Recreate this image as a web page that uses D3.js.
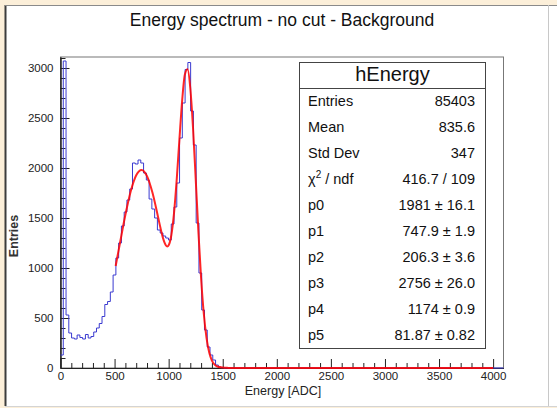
<!DOCTYPE html>
<html>
<head>
<meta charset="utf-8">
<script src="https://cdn.jsdelivr.net/npm/d3@7"></script>
<style>
  body { margin: 0; background: #fcefd9; }
  svg { display: block; font-family: "Liberation Sans", Arial, sans-serif; }
</style>
</head>
<body>
<svg id="chart" width="557" height="408"></svg>
<script>
// histogram: 160 bins of 25.6 ADC over 0..4096, only the first 60 are non-empty
const binWidth = 25.6;
const xMax = 4096;
const binCounts = [
  130, 3070, 530, 350, 300, 290, 330, 305, 290, 335,
  300, 315, 360, 400, 445, 515, 635, 665, 760, 930,
  1100, 1250, 1420, 1560, 1680, 1790, 2050, 2040, 2080, 2050,
  1950, 1880, 1690, 1590, 1500, 1380, 1350, 1320, 1300, 1280,
  1440, 1610, 1850, 2300, 2650, 2985, 3055, 2570, 2230, 1450,
  950, 580, 380, 210, 130, 80, 30, 10, 3, 0
];

// red fit curve
const fitX = [510, 550, 600, 650, 700, 750, 800, 850, 900, 925, 950, 962, 975, 987, 1000, 1025, 1050, 1075, 1100,
  1125, 1150, 1175, 1200, 1225, 1250, 1275, 1300, 1325, 1350, 1375, 1400, 1425, 1450, 1500, 1550, 1600, 4000];
const fitY = [1020, 1250, 1532, 1770, 1928, 1981, 1919, 1754, 1520, 1397, 1291, 1253, 1225, 1215, 1227, 1330, 1553, 1891, 2294,
  2677, 2936, 2988, 2800, 2407, 1893, 1364, 898, 543, 301, 155, 74, 34, 15, 4, 1, 0, 0];

const xTicks = [0, 500, 1000, 1500, 2000, 2500, 3000, 3500, 4000];
const yTicks = [0, 500, 1000, 1500, 2000, 2500, 3000];

const statsTitle = "hEnergy";
const statsLabels = ["Entries", "Mean", "Std Dev", "chi2", "p0", "p1", "p2", "p3", "p4", "p5"];
const statsValues = ["85403", "835.6", "347", "416.7 / 109", "1981 \u00b1 16.1", "747.9 \u00b1 1.9",
  "206.3 \u00b1 3.6", "2756 \u00b1 26.0", "1174 \u00b1 0.9", "81.87 \u00b1 0.82"];

const frame = {left: 60.5, right: 503.5, top: 57, bottom: 368};

const svg = d3.select("#chart");

// canvas
svg.append("rect")
    .attr("x", 5).attr("y", 5)
    .attr("width", 552).attr("height", 401)
    .attr("fill", "#fff");
svg.append("line").attr("x1", 5.5).attr("x2", 5.5).attr("y1", 5).attr("y2", 406)
    .attr("stroke", "#3c3c3c").attr("stroke-width", 2);
svg.append("line").attr("x1", 5).attr("x2", 557).attr("y1", 5.5).attr("y2", 5.5)
    .attr("stroke", "#8a8a8a");
svg.append("line").attr("x1", 548.5).attr("x2", 548.5).attr("y1", 5).attr("y2", 406)
    .attr("stroke", "#c8c8c8");
svg.append("line").attr("x1", 5).attr("x2", 557).attr("y1", 406.5).attr("y2", 406.5)
    .attr("stroke", "#d4d4d4");

const x = d3.scaleLinear().domain([0, xMax]).range([frame.left, frame.right]);
const y = d3.scaleLinear().domain([0, 3110]).range([frame.bottom, frame.top]);

// title
svg.append("text")
    .attr("x", 282).attr("y", 26)
    .attr("text-anchor", "middle")
    .style("font-size", "17.5px")
    .attr("fill", "#111")
    .text("Energy spectrum - no cut - Background");

// frame box
svg.append("rect")
    .attr("x", frame.left).attr("y", frame.top)
    .attr("width", frame.right - frame.left)
    .attr("height", frame.bottom - frame.top)
    .attr("fill", "none")
    .attr("stroke", "#777");

// axes (ticks point inside the frame)
const minorX = d3.range(0, 4001, 100);
const minorY = d3.range(0, 3101, 100);
const plain = d3.format("d");

const xAxisG = svg.append("g").attr("transform", `translate(0,${frame.bottom})`);
xAxisG.call(d3.axisBottom(x).tickValues(minorX).tickSizeInner(-5).tickSizeOuter(0).tickFormat(""));
xAxisG.call(g => g.selectAll(".tick").filter(d => xTicks.includes(d)).remove());
svg.append("g").attr("transform", `translate(0,${frame.bottom})`)
    .call(d3.axisBottom(x).tickValues(xTicks).tickFormat(plain)
        .tickSizeInner(-9).tickSizeOuter(0).tickPadding(3.5));

const yAxisG = svg.append("g").attr("transform", `translate(${frame.left},0)`);
yAxisG.call(d3.axisLeft(y).tickValues(minorY).tickSizeInner(-5).tickSizeOuter(0).tickFormat(""));
yAxisG.call(g => g.selectAll(".tick").filter(d => yTicks.includes(d)).remove());
svg.append("g").attr("transform", `translate(${frame.left},0)`)
    .call(d3.axisLeft(y).tickValues(yTicks).tickFormat(plain)
        .tickSizeInner(-9).tickSizeOuter(0).tickPadding(7));

svg.selectAll(".domain").attr("stroke", "#222");
svg.selectAll(".tick line").attr("stroke", "#222");
svg.selectAll(".tick text")
    .style("font-size", "11.5px")
    .style("font-family", "'Liberation Sans', Arial, sans-serif")
    .attr("fill", "#222");

// axis titles
svg.append("text")
    .attr("x", 283).attr("y", 395)
    .attr("text-anchor", "middle")
    .style("font-size", "12.5px")
    .attr("fill", "#222")
    .text("Energy [ADC]");

svg.append("text")
    .attr("transform", "translate(18,236) rotate(-90)")
    .attr("text-anchor", "middle")
    .style("font-size", "12.5px")
    .style("font-weight", "bold")
    .attr("fill", "#333")
    .text("Entries");

// histogram outline
const histPts = binCounts.map((c, i) => [i * binWidth, c]);
histPts.push([binCounts.length * binWidth, 0]);
histPts.push([xMax, 0]);

const histLine = d3.line()
    .x(d => x(d[0]))
    .y(d => y(d[1]))
    .curve(d3.curveStepAfter);

svg.append("path")
    .datum(histPts)
    .attr("d", histLine)
    .attr("fill", "none")
    .attr("stroke", "#3a3ad0")
    .attr("stroke-width", 1);

// fit
const fitPts = fitX.map((v, i) => [v, fitY[i]]);
svg.append("path")
    .datum(fitPts)
    .attr("d", d3.line().x(d => x(d[0])).y(d => y(d[1])).curve(d3.curveMonotoneX))
    .attr("fill", "none")
    .attr("stroke", "#ff0000")
    .attr("stroke-opacity", 0.85)
    .attr("stroke-width", 2);

// stats box
const box = {x: 299.5, y: 62.5, w: 186, h: 286, header: 26};
const stats = svg.append("g");
stats.append("rect")
    .attr("x", box.x).attr("y", box.y)
    .attr("width", box.w).attr("height", box.h)
    .attr("fill", "#fff")
    .attr("stroke", "#444");
stats.append("line")
    .attr("x1", box.x).attr("x2", box.x + box.w)
    .attr("y1", box.y + box.header).attr("y2", box.y + box.header)
    .attr("stroke", "#444");
stats.append("text")
    .attr("x", box.x + box.w / 2).attr("y", 81)
    .attr("text-anchor", "middle")
    .style("font-size", "20px")
    .attr("fill", "#111")
    .text(statsTitle);

statsLabels.forEach((lab, i) => {
    const by = 106 + i * 26;
    const t = stats.append("text")
        .attr("x", 308).attr("y", by)
        .style("font-size", "14.5px")
        .attr("fill", "#111");
    if (lab === "chi2") {
        t.append("tspan").text("\u03c7");
        t.append("tspan").attr("dy", -6).style("font-size", "10px").text("2");
        t.append("tspan").attr("dy", 6).text(" / ndf");
    } else {
        t.text(lab);
    }
    stats.append("text")
        .attr("x", 475).attr("y", by)
        .attr("text-anchor", "end")
        .style("font-size", "14.5px")
        .attr("fill", "#111")
        .text(statsValues[i]);
});
</script>
</body>
</html>
